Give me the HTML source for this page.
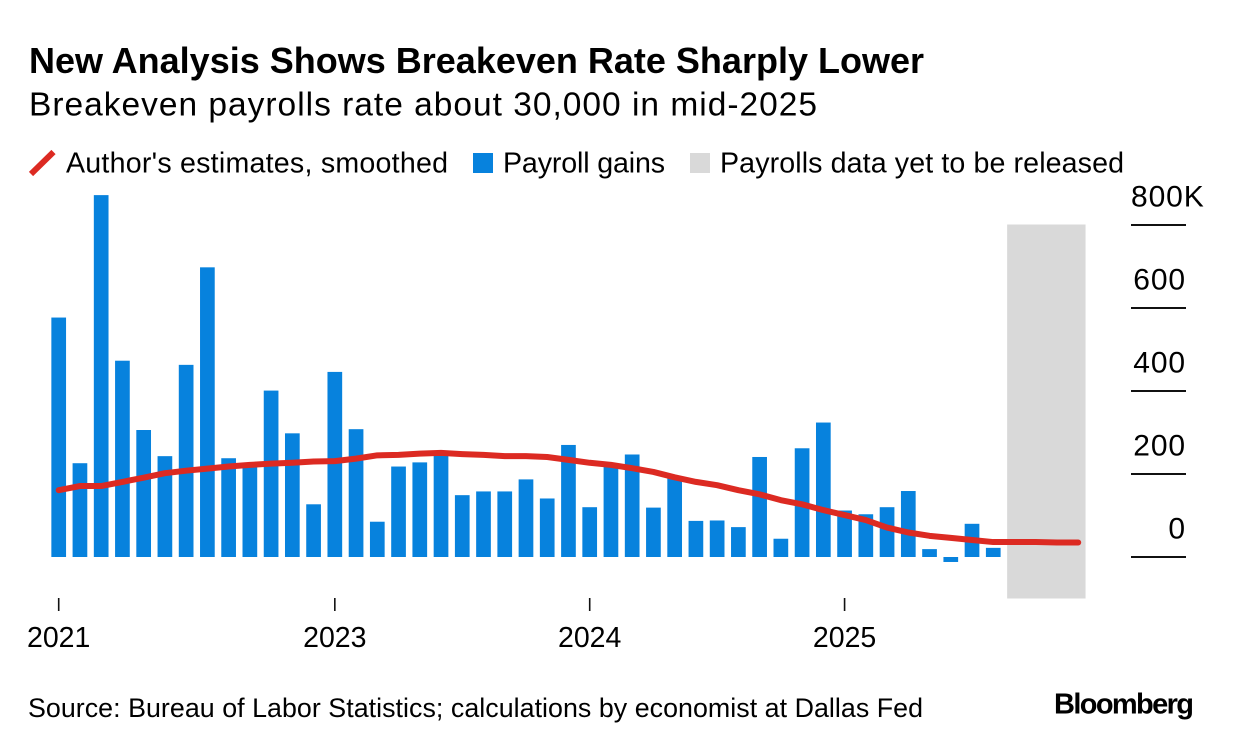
<!DOCTYPE html>
<html lang="en">
<head>
<meta charset="utf-8">
<title>New Analysis Shows Breakeven Rate Sharply Lower</title>
<style>
  html, body { margin: 0; padding: 0; background: #fff; }
  svg { display: block; font-family: "Liberation Sans", Arial, sans-serif; fill: #000; }
</style>
</head>
<body>
<svg id="chart" width="1233" height="750" viewBox="0 0 1233 750" xmlns="http://www.w3.org/2000/svg">
  <text x="29" y="73" font-size="36" font-weight="700" textLength="895" lengthAdjust="spacing">New Analysis Shows Breakeven Rate Sharply Lower</text>
  <text x="29" y="115.5" font-size="33.5" textLength="788" lengthAdjust="spacing">Breakeven payrolls rate about 30,000 in mid-2025</text>

  <line x1="31" y1="174" x2="53.5" y2="152" stroke="#dc2a22" stroke-width="6"/>
  <text x="66" y="172.5" font-size="28.6" textLength="382" lengthAdjust="spacing">Author's estimates, smoothed</text>
  <rect x="473" y="153" width="20" height="20" fill="#0782dd"/>
  <text x="503" y="172.5" font-size="28.6" textLength="162" lengthAdjust="spacing">Payroll gains</text>
  <rect x="690" y="153" width="20" height="20" fill="#d9d9d9"/>
  <text x="720" y="172.5" font-size="28.6" textLength="404" lengthAdjust="spacing">Payrolls data yet to be released</text>

  <g id="band-layer"></g>
  <g id="bar-layer"></g>
  <g id="line-layer"></g>
  <g id="y-axis"></g>
  <g id="x-axis"></g>

  <text x="28" y="717" font-size="26.8" textLength="895" lengthAdjust="spacing">Source: Bureau of Labor Statistics; calculations by economist at Dallas Fed</text>
  <text x="1054" y="713.5" font-size="29" font-weight="700" textLength="140" lengthAdjust="spacing">Bloomberg</text>
</svg>
<script>
const months = [
  '2021-12',
  '2022-01','2022-02','2022-03','2022-04','2022-05','2022-06','2022-07','2022-08','2022-09','2022-10','2022-11','2022-12',
  '2023-01','2023-02','2023-03','2023-04','2023-05','2023-06','2023-07','2023-08','2023-09','2023-10','2023-11','2023-12',
  '2024-01','2024-02','2024-03','2024-04','2024-05','2024-06','2024-07','2024-08','2024-09','2024-10','2024-11','2024-12',
  '2025-01','2025-02','2025-03','2025-04','2025-05','2025-06','2025-07','2025-08','2025-09','2025-10','2025-11','2025-12'
];
const payrollGains = [
  577, 226, 872, 473, 306, 243, 463, 698, 238, 222, 401, 298, 127, 446, 308, 85, 218, 228,
  248, 149, 158, 158, 187, 141, 270, 120, 221, 247, 119, 193, 87, 88, 72, 241, 44, 262,
  324, 112, 103, 120, 159, 19, -12, 80, 22
];
const estimates = [
  161, 171, 171, 181, 191, 202, 208, 213, 218, 222, 225, 227, 230, 231, 237, 245, 246, 249,
  251, 248, 246, 243, 243, 241, 234, 227, 222, 214, 205, 192, 181, 173, 161, 151, 137, 127,
  113, 101, 89, 71, 59, 51, 46, 41, 36, 36, 36, 35, 35
];
const unreleasedMonths = ['2025-09', '2025-12'];
const yTickValues = [0, 200, 400, 600, 800];
const yTickLabels = ['0', '200', '400', '600', '800K'];
const xTickMonths = ['2021-12', '2023-01', '2024-01', '2025-01'];
const xTickLabels = ['2021', '2023', '2024', '2025'];

const SVG_NS = 'http://www.w3.org/2000/svg';
const BAR_W = 14.7;
const X0 = 58.7, X_STEP = 21.24;
const Y_DOMAIN_MIN = -100, Y_DOMAIN_MAX = 800, Y_BOTTOM = 598.5, Y_TOP = 225;

function xScale(i) { return X0 + X_STEP * i; }
function yScale(v) { return Y_BOTTOM - (v - Y_DOMAIN_MIN) / (Y_DOMAIN_MAX - Y_DOMAIN_MIN) * (Y_BOTTOM - Y_TOP); }
function xOfMonth(m) { return xScale(months.indexOf(m)); }
function make(tag, parent, attrs) {
  const el = document.createElementNS(SVG_NS, tag);
  for (const k in attrs) el.setAttribute(k, attrs[k]);
  parent.appendChild(el);
  return el;
}

const bandLayer = document.getElementById('band-layer');
const barLayer = document.getElementById('bar-layer');
const lineLayer = document.getElementById('line-layer');
const yAxis = document.getElementById('y-axis');
const xAxis = document.getElementById('x-axis');

const bandLeft = xOfMonth(unreleasedMonths[0]) - BAR_W / 2;
const bandRight = xOfMonth(unreleasedMonths[1]) + BAR_W / 2;
const band = make('rect', bandLayer, { x: bandLeft, y: yScale(Y_DOMAIN_MAX) - 0.5, width: bandRight - bandLeft, height: yScale(Y_DOMAIN_MIN) - yScale(Y_DOMAIN_MAX) + 0.5, fill: '#d9d9d9' });



payrollGains.forEach(function (v, i) {
  const top = Math.min(yScale(v), yScale(0));
  const h = Math.abs(yScale(v) - yScale(0));
  const bar = make('rect', barLayer, { x: xScale(i) - BAR_W / 2, y: top, width: BAR_W, height: h, fill: '#0782dd' });
  
  
});

const linePoints = estimates.map(function (v, i) { return xScale(i) + ',' + yScale(v); }).join(' ');
const line = make('polyline', lineLayer, { points: linePoints, fill: 'none', stroke: '#dc2a22', 'stroke-width': 6, 'stroke-linejoin': 'round', 'stroke-linecap': 'round' });



yTickValues.forEach(function (v, i) {
  const y = yScale(v);
  const tick = make('line', yAxis, { x1: 1131, x2: 1186, y1: y, y2: y, stroke: '#111', 'stroke-width': 2 });
  
  
  const label = make('text', yAxis, { x: 1131, y: y - 18.5, 'font-size': 30, 'letter-spacing': 0.9 });
  if (yTickLabels[i].slice(-1) !== 'K') {
    label.setAttribute('x', 1186);
    label.setAttribute('text-anchor', 'end');
  }
  label.textContent = yTickLabels[i];
  
  
});

xTickMonths.forEach(function (m, i) {
  const x = xOfMonth(m);
  const tick = make('line', xAxis, { x1: x, x2: x, y1: 598, y2: 611, stroke: '#111', 'stroke-width': 1.6 });
  
  
  const label = make('text', xAxis, { x: x, y: 647, 'font-size': 28.5, 'text-anchor': 'middle' });
  label.textContent = xTickLabels[i];
  
  
});
</script>
</body>
</html>
